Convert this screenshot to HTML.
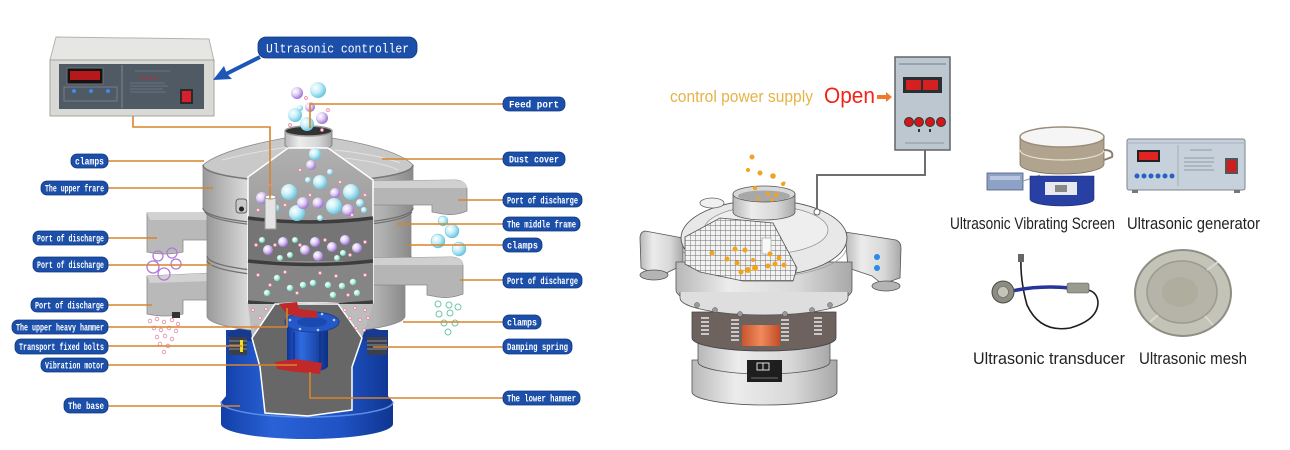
<!DOCTYPE html>
<html><head><meta charset="utf-8"><style>
html,body{margin:0;padding:0;background:#fff;}
svg{display:block;}
.lb{fill:#1c4fa9;stroke:#0e377f;stroke-width:0.8;}
.lt{fill:#fff;font-family:"Liberation Mono","DejaVu Sans Mono",monospace;font-size:10px;font-weight:bold;}
.ln{stroke:#d8842c;stroke-width:1.6;fill:none;}
.pk{fill:#fbe3ea;stroke:#e48aa4;stroke-width:0.7;}
.pr{fill:none;stroke:#b07ad8;stroke-width:1.3;}
.gr{fill:none;stroke:#6cc7a6;stroke-width:1;}
.pr2{fill:none;stroke:#e48aa4;stroke-width:0.8;}
.od{fill:#f2a31c;}
</style></head><body>
<svg width="1290" height="450" viewBox="0 0 1290 450" xmlns="http://www.w3.org/2000/svg">
<defs>
 <linearGradient id="metal" x1="0" x2="1" y1="0" y2="0">
  <stop offset="0" stop-color="#9a9a9a"/><stop offset="0.2" stop-color="#d8d8d8"/><stop offset="0.55" stop-color="#c6c6c6"/><stop offset="0.85" stop-color="#b2b2b2"/><stop offset="1" stop-color="#8a8a8a"/>
 </linearGradient>
 <linearGradient id="metal2" x1="0" x2="1" y1="0" y2="0">
  <stop offset="0" stop-color="#b8b8b8"/><stop offset="0.3" stop-color="#ececec"/><stop offset="0.7" stop-color="#d8d8d8"/><stop offset="1" stop-color="#a8a8a8"/>
 </linearGradient>
 <linearGradient id="blue" x1="0" x2="1" y1="0" y2="0">
  <stop offset="0" stop-color="#123fa8"/><stop offset="0.3" stop-color="#2a62d6"/><stop offset="0.7" stop-color="#1f52c4"/><stop offset="1" stop-color="#0f3590"/>
 </linearGradient>
 <linearGradient id="mblue" x1="0" x2="1" y1="0" y2="0">
  <stop offset="0" stop-color="#0d339a"/><stop offset="0.35" stop-color="#2f6be0"/><stop offset="1" stop-color="#0e2f86"/>
 </linearGradient>
 <linearGradient id="inner" x1="0" x2="0" y1="0" y2="1">
  <stop offset="0" stop-color="#b0b0b0"/><stop offset="1" stop-color="#858585"/>
 </linearGradient>
 <linearGradient id="orng" x1="0" x2="1">
  <stop offset="0" stop-color="#c9552e"/><stop offset="0.5" stop-color="#f08a5c"/><stop offset="1" stop-color="#c24c28"/>
 </linearGradient>
 <radialGradient id="cy" cx="0.35" cy="0.35" r="0.7">
  <stop offset="0" stop-color="#ffffff"/><stop offset="0.45" stop-color="#c8f0f8"/><stop offset="1" stop-color="#63c2de"/>
 </radialGradient>
 <radialGradient id="pu" cx="0.35" cy="0.35" r="0.7">
  <stop offset="0" stop-color="#ffffff"/><stop offset="0.45" stop-color="#e2d2f6"/><stop offset="1" stop-color="#9a6ad4"/>
 </radialGradient>
 <radialGradient id="gn" cx="0.35" cy="0.35" r="0.7">
  <stop offset="0" stop-color="#ffffff"/><stop offset="0.5" stop-color="#bff3e6"/><stop offset="1" stop-color="#5cc8b2"/>
 </radialGradient>
 <pattern id="grid" width="5" height="5" patternUnits="userSpaceOnUse">
  <rect width="5" height="5" fill="#f2f2f2"/><path d="M0,0H5M0,0V5" stroke="#6e6e6e" stroke-width="0.9"/>
 </pattern>
</defs>

<rect width="1290" height="450" fill="#fff"/>

<!-- ================= LEFT CONTROLLER ================= -->
<polygon points="56,37 209,39 214,61 50,60" fill="#e6e7e4" stroke="#b4b4ae"/>
<rect x="50" y="60" width="164" height="56" fill="#d9dad5" stroke="#a4a49e"/>
<rect x="59" y="64" width="145" height="45" fill="#4f5a65"/>
<line x1="122" y1="65" x2="122" y2="108" stroke="#7d8893"/>
<rect x="67" y="68" width="36" height="16" fill="#1a1212" stroke="#6b747d"/>
<rect x="70" y="71" width="30" height="9" fill="#b5191c"/>
<rect x="64" y="87" width="53" height="14" fill="none" stroke="#7d8893" stroke-width="0.8"/>
<circle cx="74" cy="91" r="2" fill="#3a8ef0"/><circle cx="91" cy="91" r="2" fill="#3a8ef0"/><circle cx="108" cy="91" r="2" fill="#3a8ef0"/>
<circle cx="141" cy="78" r="1.1" fill="#e02020"/><circle cx="146" cy="78" r="1.1" fill="#e02020"/><circle cx="151" cy="78" r="1.1" fill="#e02020"/><circle cx="156" cy="78" r="1.1" fill="#e02020"/>
<g stroke="#7f8a95" stroke-width="0.6"><line x1="130" y1="83" x2="165" y2="83"/><line x1="130" y1="86" x2="168" y2="86"/><line x1="130" y1="89" x2="163" y2="89"/><line x1="130" y1="92" x2="166" y2="92"/><line x1="135" y1="71" x2="170" y2="71"/></g>
<rect x="180" y="89" width="13" height="15" fill="#2a2a2a"/>
<rect x="182" y="91" width="9" height="11" fill="#d8202c"/>

<!-- blue arrow -->
<line x1="260" y1="57" x2="226" y2="74" stroke="#1e56b8" stroke-width="4"/>
<polygon points="213,80 224,66 227,74 232,79" fill="#1e56b8"/>

<!-- ultrasonic controller label -->
<rect x="258" y="37" width="159" height="21" rx="8" class="lb"/>
<text x="337.5" y="52.5" text-anchor="middle" fill="#fff" font-family="Liberation Mono, DejaVu Sans Mono, monospace" font-size="13" textLength="143" lengthAdjust="spacingAndGlyphs">Ultrasonic controller</text>

<!-- ================= LEFT MACHINE ================= -->
<!-- spouts behind (left) -->
<path d="M147,213 L210,213 L210,240 L183,240 L183,252 Q165,256 147,252 Z" fill="#b9b9b9" stroke="#8a8a8a" stroke-width="0.8"/>
<path d="M147,213 L210,213 L210,220 L150,220 Z" fill="#d2d2d2"/>
<path d="M147,276 L212,273 L212,300 L183,300 L183,314 Q165,318 147,314 Z" fill="#b9b9b9" stroke="#8a8a8a" stroke-width="0.8"/>
<path d="M147,276 L212,273 L212,281 L150,283 Z" fill="#d2d2d2"/>
<rect x="172" y="312" width="8" height="6" fill="#333"/>

<!-- blue base -->
<path d="M226,330 L226,396 L221,402 L221,424 A86,15 0 0 0 393,424 L393,402 L388,396 L388,330 Z" fill="url(#blue)"/>
<path d="M221,402 A86,15 0 0 0 393,402" fill="none" stroke="#5c8ce6" stroke-width="1.5"/>
<ellipse cx="307" cy="334" rx="80" ry="10" fill="#173a8e"/>
<!-- springs -->
<rect x="229" y="337" width="18" height="18" fill="#3a3f4a"/>
<g stroke="#8a8f9a" stroke-width="1"><line x1="229" y1="341" x2="247" y2="341"/><line x1="229" y1="345" x2="247" y2="345"/><line x1="229" y1="349" x2="247" y2="349"/></g>
<rect x="240" y="340" width="3" height="12" fill="#f2e21a"/>
<rect x="367" y="337" width="20" height="18" fill="#3a3f4a"/>
<g stroke="#8a8f9a" stroke-width="1"><line x1="367" y1="341" x2="387" y2="341"/><line x1="367" y1="345" x2="387" y2="345"/><line x1="367" y1="349" x2="387" y2="349"/></g>

<!-- lower frame -->
<path d="M207,258 L207,316 A99,17 0 0 0 405,316 L405,258 Z" fill="url(#metal)" stroke="#8a8a8a" stroke-width="0.8"/>
<!-- middle frame -->
<path d="M207,212 L207,256 A102,17 0 0 0 411,256 L411,212 Z" fill="url(#metal)" stroke="#8a8a8a" stroke-width="0.8"/>
<!-- upper frame -->
<path d="M203,165 L203,208 A105,17 0 0 0 413,208 L413,165 Z" fill="url(#metal)" stroke="#8a8a8a" stroke-width="0.8"/>
<g fill="none" stroke="#6e6e6e" stroke-width="1.2">
 <path d="M203,208 A105,17 0 0 0 413,208"/><path d="M205,212 A104,17 0 0 0 412,212"/>
 <path d="M207,256 A102,17 0 0 0 411,256"/><path d="M207,260 A100,17 0 0 0 407,260"/>
</g>
<!-- nozzle on upper frame -->
<rect x="236" y="199" width="11" height="14" rx="3" fill="#c8c8c8" stroke="#666"/>
<circle cx="241.5" cy="209" r="2.5" fill="#222"/>

<!-- dust cover -->
<path d="M203,165 Q220,150 285,138 L332,138 Q398,149 413,165 A105,17 0 0 1 203,165 Z" fill="#c9c9c9" stroke="#8a8a8a" stroke-width="0.8"/>
<path d="M203,165 A105,17 0 0 0 413,165" fill="none" stroke="#777" stroke-width="1.5"/>
<g fill="none" stroke="#e2e2e2" stroke-width="1"><path d="M222,160 Q260,150 300,146"/><path d="M335,150 Q380,155 400,163"/><path d="M345,158 Q385,163 398,170"/></g>

<!-- right spouts -->
<path d="M373,181 L456,180 Q467,181 467,190 L467,211 Q455,216 443,214 L432,212 L432,205 L373,205 Z" fill="#b5b5b5" stroke="#8a8a8a" stroke-width="0.8"/>
<path d="M373,181 L456,180 Q467,181 467,188 L373,188 Z" fill="#d0d0d0"/>
<path d="M373,258 L452,257 Q463,258 463,266 L463,294 Q450,299 438,297 L427,295 L427,285 L373,285 Z" fill="#b5b5b5" stroke="#8a8a8a" stroke-width="0.8"/>
<path d="M373,258 L452,257 Q463,258 463,265 L373,265 Z" fill="#d0d0d0"/>

<!-- feed port -->
<path d="M285,131 L285,145 A23.5,5 0 0 0 332,145 L332,131 Z" fill="url(#metal2)" stroke="#777" stroke-width="0.8"/>
<ellipse cx="308.5" cy="131" rx="23.5" ry="5" fill="#333" stroke="#999" stroke-width="1.5"/>

<!-- cutaway upper -->
<polygon points="288,148 328,148 373,180 373,303 248,303 248,177" fill="url(#inner)" stroke="#fff" stroke-width="1.5"/>
<rect x="248" y="220" width="125" height="41" fill="#757575"/>
<rect x="248" y="263" width="125" height="39" fill="#858585"/>
<g fill="none" stroke="#3d3d3d" stroke-width="3.5">
 <path d="M248,218 Q310,226 373,218"/><path d="M248,261 Q310,268 373,261"/><path d="M248,302 Q310,308 373,302"/>
</g>
<!-- lower cutaway -->
<polygon points="248,304 373,304 362,338 352,367 352,410 308,416 265,413 260,367 252,338" fill="#bdbdbd"/>
<polygon points="275,304 338,304 362,338 352,367 352,410 308,416 265,413 260,367 252,338" fill="#676767" stroke="#fff" stroke-width="1.5"/>
<!-- motor -->
<path d="M287,322 L287,366 A20.5,6 0 0 0 328,366 L328,322 Z" fill="url(#mblue)"/>
<ellipse cx="312" cy="322" rx="27" ry="10" fill="#2458c8" stroke="#1a3f96"/>
<ellipse cx="312" cy="322" rx="15" ry="5" fill="#1a4ab0"/>
<g fill="#b8c8e8"><circle cx="290" cy="320" r="1.3"/><circle cx="300" cy="314" r="1.3"/><circle cx="322" cy="314" r="1.3"/><circle cx="334" cy="320" r="1.3"/><circle cx="318" cy="330" r="1.3"/><circle cx="300" cy="329" r="1.3"/></g>
<g stroke="#0c2a78" stroke-width="1"><line x1="294" y1="332" x2="294" y2="366"/><line x1="320" y1="332" x2="320" y2="366"/></g>
<polygon points="279,304 297,302 299,309 317,311 317,318 298,317 286,313" fill="#c0282a"/>
<polygon points="275,362 296,359 322,363 320,374 296,372 277,369" fill="#c0282a"/>

<!-- bubbles in cutaway -->
<g fill="url(#cy)">
 <circle cx="315" cy="154" r="6"/><circle cx="320" cy="182" r="7"/><circle cx="289" cy="192" r="8"/><circle cx="351" cy="192" r="8"/>
 <circle cx="334" cy="206" r="8"/><circle cx="297" cy="213" r="8"/><circle cx="330" cy="172" r="3"/><circle cx="308" cy="180" r="3"/>
 <circle cx="276" cy="208" r="3.5"/><circle cx="360" cy="203" r="4"/><circle cx="364" cy="210" r="3"/><circle cx="320" cy="218" r="3"/>
</g>
<g fill="url(#pu)">
 <circle cx="311" cy="165" r="5"/><circle cx="262" cy="198" r="6"/><circle cx="303" cy="203" r="6"/><circle cx="318" cy="203" r="5.5"/>
 <circle cx="348" cy="210" r="6"/><circle cx="335" cy="193" r="5"/>
 <circle cx="283" cy="242" r="5"/><circle cx="268" cy="250" r="5"/><circle cx="305" cy="250" r="5"/><circle cx="315" cy="242" r="5"/>
 <circle cx="332" cy="247" r="5"/><circle cx="345" cy="240" r="5"/><circle cx="357" cy="248" r="5"/><circle cx="318" cy="256" r="5"/>
</g>
<g fill="url(#gn)">
 <circle cx="295" cy="240" r="3"/><circle cx="280" cy="258" r="3"/><circle cx="290" cy="255" r="3"/><circle cx="337" cy="258" r="3"/><circle cx="343" cy="253" r="3"/><circle cx="262" cy="240" r="3"/>
 <circle cx="277" cy="278" r="3.2"/><circle cx="303" cy="285" r="3.2"/><circle cx="290" cy="288" r="3.2"/><circle cx="267" cy="293" r="3.2"/><circle cx="313" cy="283" r="3.2"/>
 <circle cx="328" cy="285" r="3.2"/><circle cx="342" cy="286" r="3.2"/><circle cx="353" cy="282" r="3.2"/><circle cx="357" cy="293" r="3.2"/><circle cx="333" cy="295" r="3.2"/>
</g>
<g class="pk">
 <circle cx="270" cy="185" r="1.5"/><circle cx="300" cy="170" r="1.5"/><circle cx="340" cy="182" r="1.5"/><circle cx="258" cy="210" r="1.5"/><circle cx="285" cy="205" r="1.5"/><circle cx="310" cy="195" r="1.5"/><circle cx="365" cy="195" r="1.5"/><circle cx="352" cy="215" r="1.5"/>
 <circle cx="256" cy="245" r="1.5"/><circle cx="275" cy="245" r="1.5"/><circle cx="300" cy="245" r="1.5"/><circle cx="325" cy="240" r="1.5"/><circle cx="350" cy="255" r="1.5"/><circle cx="365" cy="242" r="1.5"/>
 <circle cx="258" cy="275" r="1.5"/><circle cx="270" cy="285" r="1.5"/><circle cx="285" cy="272" r="1.5"/><circle cx="297" cy="293" r="1.5"/><circle cx="320" cy="273" r="1.5"/><circle cx="336" cy="276" r="1.5"/><circle cx="348" cy="295" r="1.5"/><circle cx="365" cy="275" r="1.5"/>
 <circle cx="253" cy="310" r="1.5"/><circle cx="260" cy="318" r="1.5"/><circle cx="256" cy="327" r="1.5"/><circle cx="266" cy="309" r="1.5"/>
 <circle cx="345" cy="310" r="1.5"/><circle cx="355" cy="308" r="1.5"/><circle cx="365" cy="310" r="1.5"/><circle cx="350" cy="318" r="1.5"/><circle cx="360" cy="320" r="1.5"/><circle cx="368" cy="318" r="1.5"/><circle cx="356" cy="328" r="1.5"/><circle cx="364" cy="330" r="1.5"/>
</g>
<!-- transducer rod -->
<rect x="265" y="197" width="11" height="32" fill="#e4e4e4" stroke="#9a9a9a"/>
<ellipse cx="270.5" cy="197" rx="5.5" ry="2" fill="#fff" stroke="#9a9a9a"/>

<!-- bubbles above feed port -->
<g fill="url(#cy)"><circle cx="318" cy="90" r="8"/><circle cx="295" cy="115" r="7"/><circle cx="307" cy="124" r="7"/><circle cx="300" cy="108" r="3"/></g>
<g fill="url(#pu)"><circle cx="297" cy="93" r="6"/><circle cx="310" cy="107" r="5"/><circle cx="322" cy="118" r="6"/></g>
<g class="pk"><circle cx="306" cy="98" r="1.5"/><circle cx="328" cy="110" r="1.5"/><circle cx="290" cy="125" r="1.5"/><circle cx="322" cy="130" r="1.5"/></g>

<!-- falling outside -->
<g class="pr"><circle cx="158" cy="256" r="5"/><circle cx="172" cy="253" r="5"/><circle cx="153" cy="267" r="6"/><circle cx="176" cy="264" r="5"/><circle cx="164" cy="274" r="6"/></g>
<g class="pr2">
 <circle cx="150" cy="321" r="1.8"/><circle cx="157" cy="319" r="1.8"/><circle cx="164" cy="322" r="1.8"/><circle cx="172" cy="320" r="1.8"/><circle cx="178" cy="324" r="1.8"/>
 <circle cx="154" cy="328" r="1.8"/><circle cx="161" cy="330" r="1.8"/><circle cx="169" cy="328" r="1.8"/><circle cx="176" cy="331" r="1.8"/>
 <circle cx="157" cy="337" r="1.8"/><circle cx="165" cy="336" r="1.8"/><circle cx="172" cy="339" r="1.8"/><circle cx="160" cy="344" r="1.8"/><circle cx="168" cy="346" r="1.8"/><circle cx="164" cy="352" r="1.8"/>
</g>
<g fill="url(#cy)" stroke="#63c2de" stroke-width="0.5"><circle cx="443" cy="221" r="5"/><circle cx="452" cy="231" r="7"/><circle cx="438" cy="241" r="7"/><circle cx="459" cy="249" r="7"/></g>
<g class="gr"><circle cx="438" cy="304" r="3"/><circle cx="449" cy="305" r="3"/><circle cx="458" cy="307" r="3"/><circle cx="439" cy="314" r="3"/><circle cx="450" cy="313" r="3"/><circle cx="444" cy="323" r="3"/><circle cx="455" cy="323" r="3"/><circle cx="448" cy="332" r="3"/></g>

<!-- connector lines -->
<polyline class="ln" points="133,116 133,127 270,127 270,199"/>
<polyline class="ln" points="108,161 204,161"/>
<polyline class="ln" points="108,188 213,188"/>
<polyline class="ln" points="108,238 157,238"/>
<polyline class="ln" points="108,265 212,265"/>
<polyline class="ln" points="108,305 152,305"/>
<polyline class="ln" points="108,327 287,327 287,308"/>
<polyline class="ln" points="108,346 242,346"/>
<polyline class="ln" points="108,365 297,365"/>
<polyline class="ln" points="108,406 240,406"/>
<polyline class="ln" points="310,128 310,104 503,104"/>
<polyline class="ln" points="382,159 503,159"/>
<polyline class="ln" points="458,200 503,200"/>
<polyline class="ln" points="397,224 503,224"/>
<polyline class="ln" points="407,245 503,245"/>
<polyline class="ln" points="460,280 503,280"/>
<polyline class="ln" points="403,322 503,322"/>
<polyline class="ln" points="373,347 503,347"/>
<polyline class="ln" points="310,372 310,398 503,398"/>

<!-- labels left -->
<rect x="71" y="154" width="37" height="14" rx="6" class="lb"/><text x="89.5" y="164.5" text-anchor="middle" class="lt" textLength="29" lengthAdjust="spacingAndGlyphs">clamps</text>
<rect x="41" y="181" width="67" height="14" rx="6" class="lb"/><text x="74.5" y="191.5" text-anchor="middle" class="lt" textLength="59" lengthAdjust="spacingAndGlyphs">The upper frare</text>
<rect x="33" y="231" width="75" height="14" rx="6" class="lb"/><text x="70.5" y="241.5" text-anchor="middle" class="lt" textLength="67" lengthAdjust="spacingAndGlyphs">Port of discharge</text>
<rect x="33" y="257" width="75" height="15" rx="6" class="lb"/><text x="70.5" y="268" text-anchor="middle" class="lt" textLength="67" lengthAdjust="spacingAndGlyphs">Port of discharge</text>
<rect x="31" y="298" width="77" height="14" rx="6" class="lb"/><text x="69.5" y="308.5" text-anchor="middle" class="lt" textLength="69" lengthAdjust="spacingAndGlyphs">Port of discharge</text>
<rect x="12" y="320" width="96" height="14" rx="6" class="lb"/><text x="60" y="330.5" text-anchor="middle" class="lt" textLength="88" lengthAdjust="spacingAndGlyphs">The upper heavy hammer</text>
<rect x="15" y="339" width="93" height="15" rx="6" class="lb"/><text x="61.5" y="350" text-anchor="middle" class="lt" textLength="85" lengthAdjust="spacingAndGlyphs">Transport fixed bolts</text>
<rect x="41" y="358" width="67" height="14" rx="6" class="lb"/><text x="74.5" y="368.5" text-anchor="middle" class="lt" textLength="59" lengthAdjust="spacingAndGlyphs">Vibration motor</text>
<rect x="64" y="398" width="44" height="15" rx="6" class="lb"/><text x="86" y="409" text-anchor="middle" class="lt" textLength="36" lengthAdjust="spacingAndGlyphs">The base</text>
<!-- labels right -->
<rect x="503" y="97" width="62" height="14" rx="6" class="lb"/><text x="534" y="107.5" text-anchor="middle" class="lt" textLength="50" lengthAdjust="spacingAndGlyphs">Feed port</text>
<rect x="503" y="152" width="62" height="14" rx="6" class="lb"/><text x="534" y="162.5" text-anchor="middle" class="lt" textLength="50" lengthAdjust="spacingAndGlyphs">Dust cover</text>
<rect x="503" y="193" width="79" height="14" rx="6" class="lb"/><text x="542.5" y="203.5" text-anchor="middle" class="lt" textLength="71" lengthAdjust="spacingAndGlyphs">Port of discharge</text>
<rect x="503" y="217" width="77" height="14" rx="6" class="lb"/><text x="541.5" y="227.5" text-anchor="middle" class="lt" textLength="69" lengthAdjust="spacingAndGlyphs">The middle frame</text>
<rect x="503" y="238" width="39" height="14" rx="6" class="lb"/><text x="522.5" y="248.5" text-anchor="middle" class="lt" textLength="31" lengthAdjust="spacingAndGlyphs">clamps</text>
<rect x="503" y="273" width="79" height="15" rx="6" class="lb"/><text x="542.5" y="284" text-anchor="middle" class="lt" textLength="71" lengthAdjust="spacingAndGlyphs">Port of discharge</text>
<rect x="503" y="315" width="38" height="14" rx="6" class="lb"/><text x="522" y="325.5" text-anchor="middle" class="lt" textLength="30" lengthAdjust="spacingAndGlyphs">clamps</text>
<rect x="503" y="339" width="69" height="15" rx="6" class="lb"/><text x="537.5" y="350" text-anchor="middle" class="lt" textLength="61" lengthAdjust="spacingAndGlyphs">Damping spring</text>
<rect x="503" y="391" width="77" height="14" rx="6" class="lb"/><text x="541.5" y="401.5" text-anchor="middle" class="lt" textLength="69" lengthAdjust="spacingAndGlyphs">The lower hammer</text>

<!-- ================= RIGHT DIAGRAM ================= -->
<text x="670" y="102" fill="#e6b347" font-family="Liberation Sans, DejaVu Sans, sans-serif" font-size="17" textLength="143" lengthAdjust="spacingAndGlyphs">control power supply</text>
<text x="824" y="103" fill="#f2241a" font-family="Liberation Sans, DejaVu Sans, sans-serif" font-size="22" textLength="51" lengthAdjust="spacingAndGlyphs">Open</text>
<polygon points="877,95 886,95 886,92 892,97 886,102 886,99 877,99" fill="#f07a2a"/>

<!-- small controller -->
<rect x="895" y="57" width="55" height="93" fill="#bcc7d0" stroke="#5f656b" stroke-width="1.5"/>
<line x1="899" y1="64" x2="946" y2="64" stroke="#8a96a2" stroke-width="1.5"/>
<rect x="903" y="77" width="39" height="16" fill="#2b2f34"/>
<rect x="906" y="80" width="15" height="10" fill="#d42020"/><rect x="923" y="80" width="15" height="10" fill="#d42020"/>
<g fill="#d01818" stroke="#333" stroke-width="1"><circle cx="909" cy="122" r="4.5"/><circle cx="919" cy="122" r="4.5"/><circle cx="930" cy="122" r="4.5"/><circle cx="941" cy="122" r="4.5"/></g>
<g fill="#333"><rect x="918" y="129" width="2" height="3"/><rect x="929" y="129" width="2" height="3"/></g>
<line x1="905" y1="143" x2="944" y2="143" stroke="#8a96a2" stroke-width="1"/>
<!-- wire -->
<polyline points="925,150 925,175 817,175 817,233" fill="none" stroke="#6e6e6e" stroke-width="2"/>

<!-- right machine -->
<!-- spouts -->
<path d="M683,238 L645,231 Q640,232 640,238 L641,268 L660,276 L683,265 Z" fill="url(#metal2)" stroke="#555" stroke-width="0.8"/>
<ellipse cx="654" cy="275" rx="14" ry="5" fill="#b4b4b4" stroke="#555" stroke-width="0.8"/>
<path d="M845,232 L896,240 Q901,242 901,248 L900,278 L882,284 L872,276 L848,268 Z" fill="url(#metal2)" stroke="#555" stroke-width="0.8"/>
<ellipse cx="886" cy="286" rx="14" ry="5" fill="#b4b4b4" stroke="#555" stroke-width="0.8"/>
<circle cx="877" cy="257" r="3" fill="#2a8ae8"/><circle cx="877" cy="268" r="3" fill="#2a8ae8"/>

<!-- base -->
<path d="M692,360 L692,392 A72.5,13 0 0 0 837,392 L837,360 Z" fill="url(#metal2)" stroke="#555" stroke-width="0.8"/>
<path d="M698,333 L698,362 A66,12 0 0 0 830,362 L830,333 Z" fill="url(#metal2)" stroke="#555" stroke-width="0.8"/>
<rect x="747" y="360" width="35" height="22" fill="#1e1e1e"/>
<rect x="757" y="363" width="12" height="7" fill="none" stroke="#ddd" stroke-width="1"/><line x1="763" y1="363" x2="763" y2="370" stroke="#ddd"/>
<line x1="751" y1="378" x2="778" y2="378" stroke="#888" stroke-width="0.8"/>
<!-- lower frame band -->
<path d="M692,312 L692,338 A72,13 0 0 0 836,338 L836,312 Z" fill="#6d625d" stroke="#444" stroke-width="0.8"/>
<path d="M742,325 L780,325 L780,346 L742,346 Z" fill="url(#orng)"/>
<g stroke="#c8c8c8" stroke-width="2">
 <path d="M701,318 h8 M701,322 h8 M701,326 h8 M701,330 h8 M701,334 h8"/>
 <path d="M731,320 h8 M731,324 h8 M731,328 h8 M731,332 h8 M731,336 h8 M731,340 h8"/>
 <path d="M781,320 h8 M781,324 h8 M781,328 h8 M781,332 h8 M781,336 h8 M781,340 h8"/>
 <path d="M814,318 h8 M814,322 h8 M814,326 h8 M814,330 h8 M814,334 h8"/>
</g>
<!-- body ring -->
<path d="M676,262 L676,290 A88,20 0 0 0 852,290 L852,262 Z" fill="url(#metal2)" stroke="#555" stroke-width="0.8"/>
<path d="M680,292 L680,298 A84,17 0 0 0 848,298 L848,292" fill="#dedede" stroke="#555" stroke-width="0.8"/>
<g fill="#9a9a9a" stroke="#555" stroke-width="0.5"><circle cx="697" cy="305" r="2.5"/><circle cx="715" cy="310" r="2.5"/><circle cx="740" cy="314" r="2.5"/><circle cx="785" cy="314" r="2.5"/><circle cx="812" cy="310" r="2.5"/><circle cx="830" cy="305" r="2.5"/></g>
<!-- dome -->
<ellipse cx="764" cy="238" rx="83" ry="38" fill="#e8e8e8" stroke="#555" stroke-width="0.9"/>
<ellipse cx="766" cy="230" rx="62" ry="24" fill="#eeeeee" stroke="#8a8a8a" stroke-width="0.7"/>
<path d="M683,250 A82,30 0 0 0 846,250" fill="none" stroke="#9a9a9a" stroke-width="0.7"/>
<!-- mesh cutaway -->
<polygon points="685,237 720,218 773,223 797,268 793,281 743,281 700,272 685,264" fill="url(#grid)" stroke="#555" stroke-width="0.8"/>
<rect x="762" y="238" width="9" height="16" fill="#f8f8f8" stroke="#999" stroke-width="0.6"/>
<!-- small lid -->
<ellipse cx="712" cy="203" rx="12" ry="5" fill="#f0f0f0" stroke="#666" stroke-width="0.8"/>
<!-- feed cylinder -->
<path d="M733,194 L733,212 A31,8 0 0 0 795,212 L795,194 Z" fill="url(#metal2)" stroke="#555" stroke-width="0.8"/>
<ellipse cx="764" cy="194" rx="31" ry="8" fill="#d8d8d8" stroke="#555" stroke-width="0.8"/>
<ellipse cx="764" cy="196" rx="26" ry="5.5" fill="#a8a8a8"/>
<!-- wire end circle -->
<circle cx="817" cy="212" r="3" fill="#fff" stroke="#666" stroke-width="1"/>
<!-- orange dots -->
<g class="od">
 <circle cx="752" cy="157" r="2.5"/><circle cx="748" cy="170" r="2"/><circle cx="760" cy="173" r="2.5"/><circle cx="773" cy="176" r="2.8"/><circle cx="783" cy="184" r="2"/>
 <circle cx="755" cy="188" r="2.2"/><circle cx="768" cy="194" r="2"/><circle cx="776" cy="195" r="2.2"/><circle cx="758" cy="199" r="1.8"/><circle cx="772" cy="200" r="1.8"/><circle cx="784" cy="183" r="1.5"/>
 <circle cx="712" cy="253" r="2.5"/><circle cx="727" cy="259" r="2.5"/><circle cx="735" cy="249" r="2.5"/><circle cx="745" cy="250" r="2.5"/>
 <circle cx="737" cy="263" r="2.5"/><circle cx="748" cy="270" r="3"/><circle cx="755" cy="268" r="3"/><circle cx="753" cy="260" r="2"/>
 <circle cx="768" cy="266" r="2.5"/><circle cx="775" cy="264" r="2.5"/><circle cx="770" cy="254" r="2.5"/><circle cx="779" cy="258" r="2.5"/><circle cx="784" cy="265" r="2.5"/><circle cx="741" cy="272" r="2.5"/>
</g>

<!-- product photos -->
<!-- vibrating screen -->
<rect x="987" y="173" width="36" height="17" fill="#8ea2c8" stroke="#4c5a78" stroke-width="0.8"/>
<rect x="990" y="176" width="30" height="4" fill="#b8c6e0"/>
<path d="M1023,181 Q1033,178 1040,175" fill="none" stroke="#999" stroke-width="1"/>
<path d="M1030,176 L1030,199 A32,7 0 0 0 1094,199 L1094,176 Z" fill="#2840a4" stroke="#1a2a70" stroke-width="0.6"/>
<rect x="1045" y="182" width="32" height="13" fill="#e8e8f0"/>
<rect x="1055" y="185" width="12" height="7" fill="#888"/>
<path d="M1020,137 L1020,164 A42,10 0 0 0 1104,164 L1104,137 Z" fill="#b0a48e" stroke="#7a6e5c" stroke-width="0.8"/>
<path d="M1020,150 A42,10 0 0 0 1104,150" fill="none" stroke="#e8e0d0" stroke-width="1.2"/>
<ellipse cx="1062" cy="137" rx="42" ry="10" fill="#f5f5f5" stroke="#9a8c78" stroke-width="1.5"/>
<path d="M1104,150 Q1114,150 1112,157 L1104,160" fill="none" stroke="#8a7e6a" stroke-width="2"/>
<!-- generator -->
<rect x="1127" y="139" width="118" height="51" rx="2" fill="#c6d1db" stroke="#7a8590" stroke-width="1"/>
<line x1="1127" y1="143" x2="1245" y2="143" stroke="#a8b2bc" stroke-width="1"/>
<line x1="1178" y1="145" x2="1178" y2="186" stroke="#9aa5b0" stroke-width="0.8"/>
<rect x="1137" y="150" width="23" height="12" fill="#222"/>
<rect x="1139" y="152" width="19" height="8" fill="#e02424"/>
<g fill="#2462c4"><circle cx="1137" cy="176" r="2.5"/><circle cx="1144" cy="176" r="2.5"/><circle cx="1151" cy="176" r="2.5"/><circle cx="1158" cy="176" r="2.5"/><circle cx="1165" cy="176" r="2.5"/><circle cx="1172" cy="176" r="2.5"/></g>
<g stroke="#7d8893" stroke-width="0.7"><line x1="1190" y1="150" x2="1212" y2="150"/><line x1="1184" y1="158" x2="1214" y2="158"/><line x1="1184" y1="162" x2="1214" y2="162"/><line x1="1184" y1="166" x2="1212" y2="166"/><line x1="1184" y1="170" x2="1214" y2="170"/></g>
<rect x="1225" y="158" width="13" height="16" fill="#555"/>
<rect x="1227" y="160" width="9" height="12" fill="#cc2020"/>
<rect x="1132" y="190" width="6" height="3" fill="#777"/><rect x="1234" y="190" width="6" height="3" fill="#777"/>
<!-- transducer -->
<path d="M1021,257 Q1020,280 1027,305 Q1040,333 1070,328 Q1098,320 1098,302 Q1097,292 1088,290" fill="none" stroke="#1e1e1e" stroke-width="1.6"/>
<rect x="1018" y="254" width="6" height="8" fill="#666"/>
<path d="M1012,291 Q1040,285 1070,288" fill="none" stroke="#27349a" stroke-width="3.5"/>
<rect x="1067" y="283" width="22" height="10" rx="2" fill="#9a9a90" stroke="#555" stroke-width="0.6"/>
<circle cx="1003" cy="292" r="11" fill="#8c8c80" stroke="#4a4a44" stroke-width="1"/>
<circle cx="1003" cy="292" r="5.5" fill="#c4c4b8" stroke="#666" stroke-width="0.6"/>
<!-- mesh -->
<ellipse cx="1183" cy="293" rx="48" ry="43" fill="#c4c3b8" stroke="#8e8e84" stroke-width="2"/>
<ellipse cx="1182" cy="292" rx="35" ry="31" fill="#b6b4a8" stroke="#9a9a8e" stroke-width="1.5"/>
<g stroke="#d8d8d0" stroke-width="2"><line x1="1207" y1="270" x2="1218" y2="262"/><line x1="1158" y1="315" x2="1150" y2="322"/><line x1="1205" y1="316" x2="1213" y2="325"/></g>
<ellipse cx="1180" cy="292" rx="18" ry="15" fill="#a9a898" opacity="0.6"/>

<!-- product captions -->
<g font-family="Liberation Sans, DejaVu Sans, sans-serif" fill="#222" font-size="16.5">
 <text x="950" y="229" textLength="165" lengthAdjust="spacingAndGlyphs">Ultrasonic Vibrating Screen</text>
 <text x="1127" y="229" textLength="133" lengthAdjust="spacingAndGlyphs">Ultrasonic generator</text>
 <text x="973" y="364" textLength="152" lengthAdjust="spacingAndGlyphs">Ultrasonic transducer</text>
 <text x="1139" y="364" textLength="108" lengthAdjust="spacingAndGlyphs">Ultrasonic mesh</text>
</g>
</svg>
</body></html>
